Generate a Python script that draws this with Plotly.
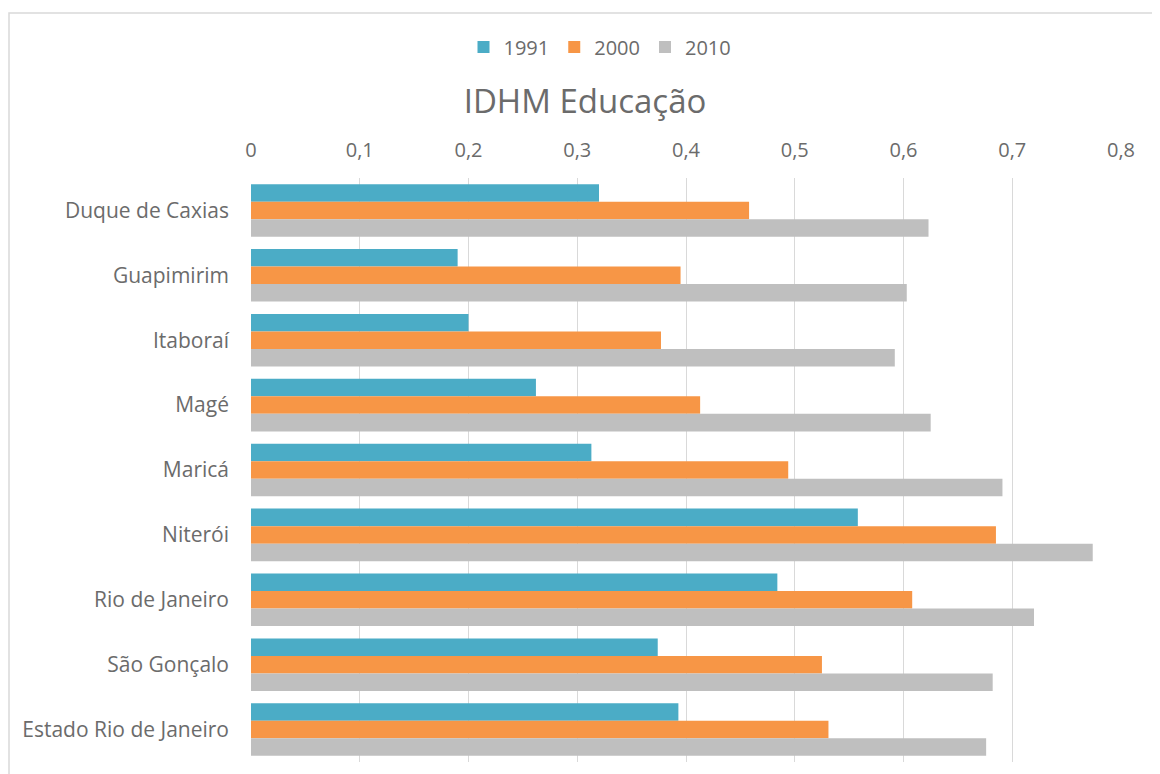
import plotly.graph_objects as go

categories = ["Duque de Caxias", "Guapimirim", "Itaboraí", "Magé", "Maricá",
              "Niterói", "Rio de Janeiro", "São Gonçalo", "Estado Rio de Janeiro"]
idhm_1991 = [0.320, 0.190, 0.200, 0.262, 0.313, 0.558, 0.484, 0.374, 0.393]
idhm_2000 = [0.458, 0.395, 0.377, 0.413, 0.494, 0.685, 0.608, 0.525, 0.531]
idhm_2010 = [0.623, 0.603, 0.592, 0.625, 0.691, 0.774, 0.720, 0.682, 0.676]
x_ticks = [0, 0.1, 0.2, 0.3, 0.4, 0.5, 0.6, 0.7, 0.8]

series = [("1991", idhm_1991, "#4BACC6"),
          ("2000", idhm_2000, "#F79646"),
          ("2010", idhm_2010, "#BFBFBF")]

FONT = "Open Sans"
TXT = "#6B6B6B"

fig = go.Figure()
for name, vals, col in series:
    fig.add_trace(go.Bar(y=categories, x=vals, name=name, orientation="h",
                         marker=dict(color=col, line=dict(width=0))))

# page body has an 8px margin: figure origin sits at screen (8, 8)
OFF = 8
W, H = 1152, 766
L, R, T, B = 243, 39, 170, 12
pw, ph = W - L - R, H - T - B

def px(xs):
    return (xs - OFF - L) / pw

def py(ys):
    return (H - B - (ys - OFF)) / ph

frame = dict(color="#D9D9D9", width=1.5)
shapes = [
    dict(type="rect", xref="paper", yref="paper", x0=px(9), x1=px(1180),
         y0=py(13), y1=py(800), line=frame, layer="below"),
]

fig.update_layout(
    width=W, height=H,
    margin=dict(l=L, r=R, t=T, b=B),
    paper_bgcolor="white", plot_bgcolor="white",
    separators=", ",
    barmode="group", bargap=0.19, bargroupgap=0,
    font=dict(family=FONT, color=TXT, size=20),
    title=dict(text="IDHM Educação", x=(585 - OFF) / W, xanchor="center",
               y=1 - (101 - OFF) / H, yanchor="middle",
               font=dict(family=FONT, size=33, color=TXT)),
    legend=dict(orientation="h", x=px(600), xanchor="center",
                y=1 - (47 - OFF) / H, yref="container", yanchor="middle",
                font=dict(family=FONT, size=20, color=TXT),
                itemwidth=30, traceorder="normal"),
    shapes=shapes,
    xaxis=dict(range=[0, 0.8], side="top", tickvals=x_ticks,
               showgrid=True, gridcolor="#D9D9D9", gridwidth=1,
               zeroline=False, showline=False, ticks="",
               ticklabelstandoff=16,
               tickfont=dict(family=FONT, size=20, color=TXT)),
    yaxis=dict(autorange="reversed", showgrid=False, showline=False,
               zeroline=False, ticks="", ticklabelstandoff=21,
               tickfont=dict(family=FONT, size=21, color=TXT)),
)

fig.write_html("out.html")
